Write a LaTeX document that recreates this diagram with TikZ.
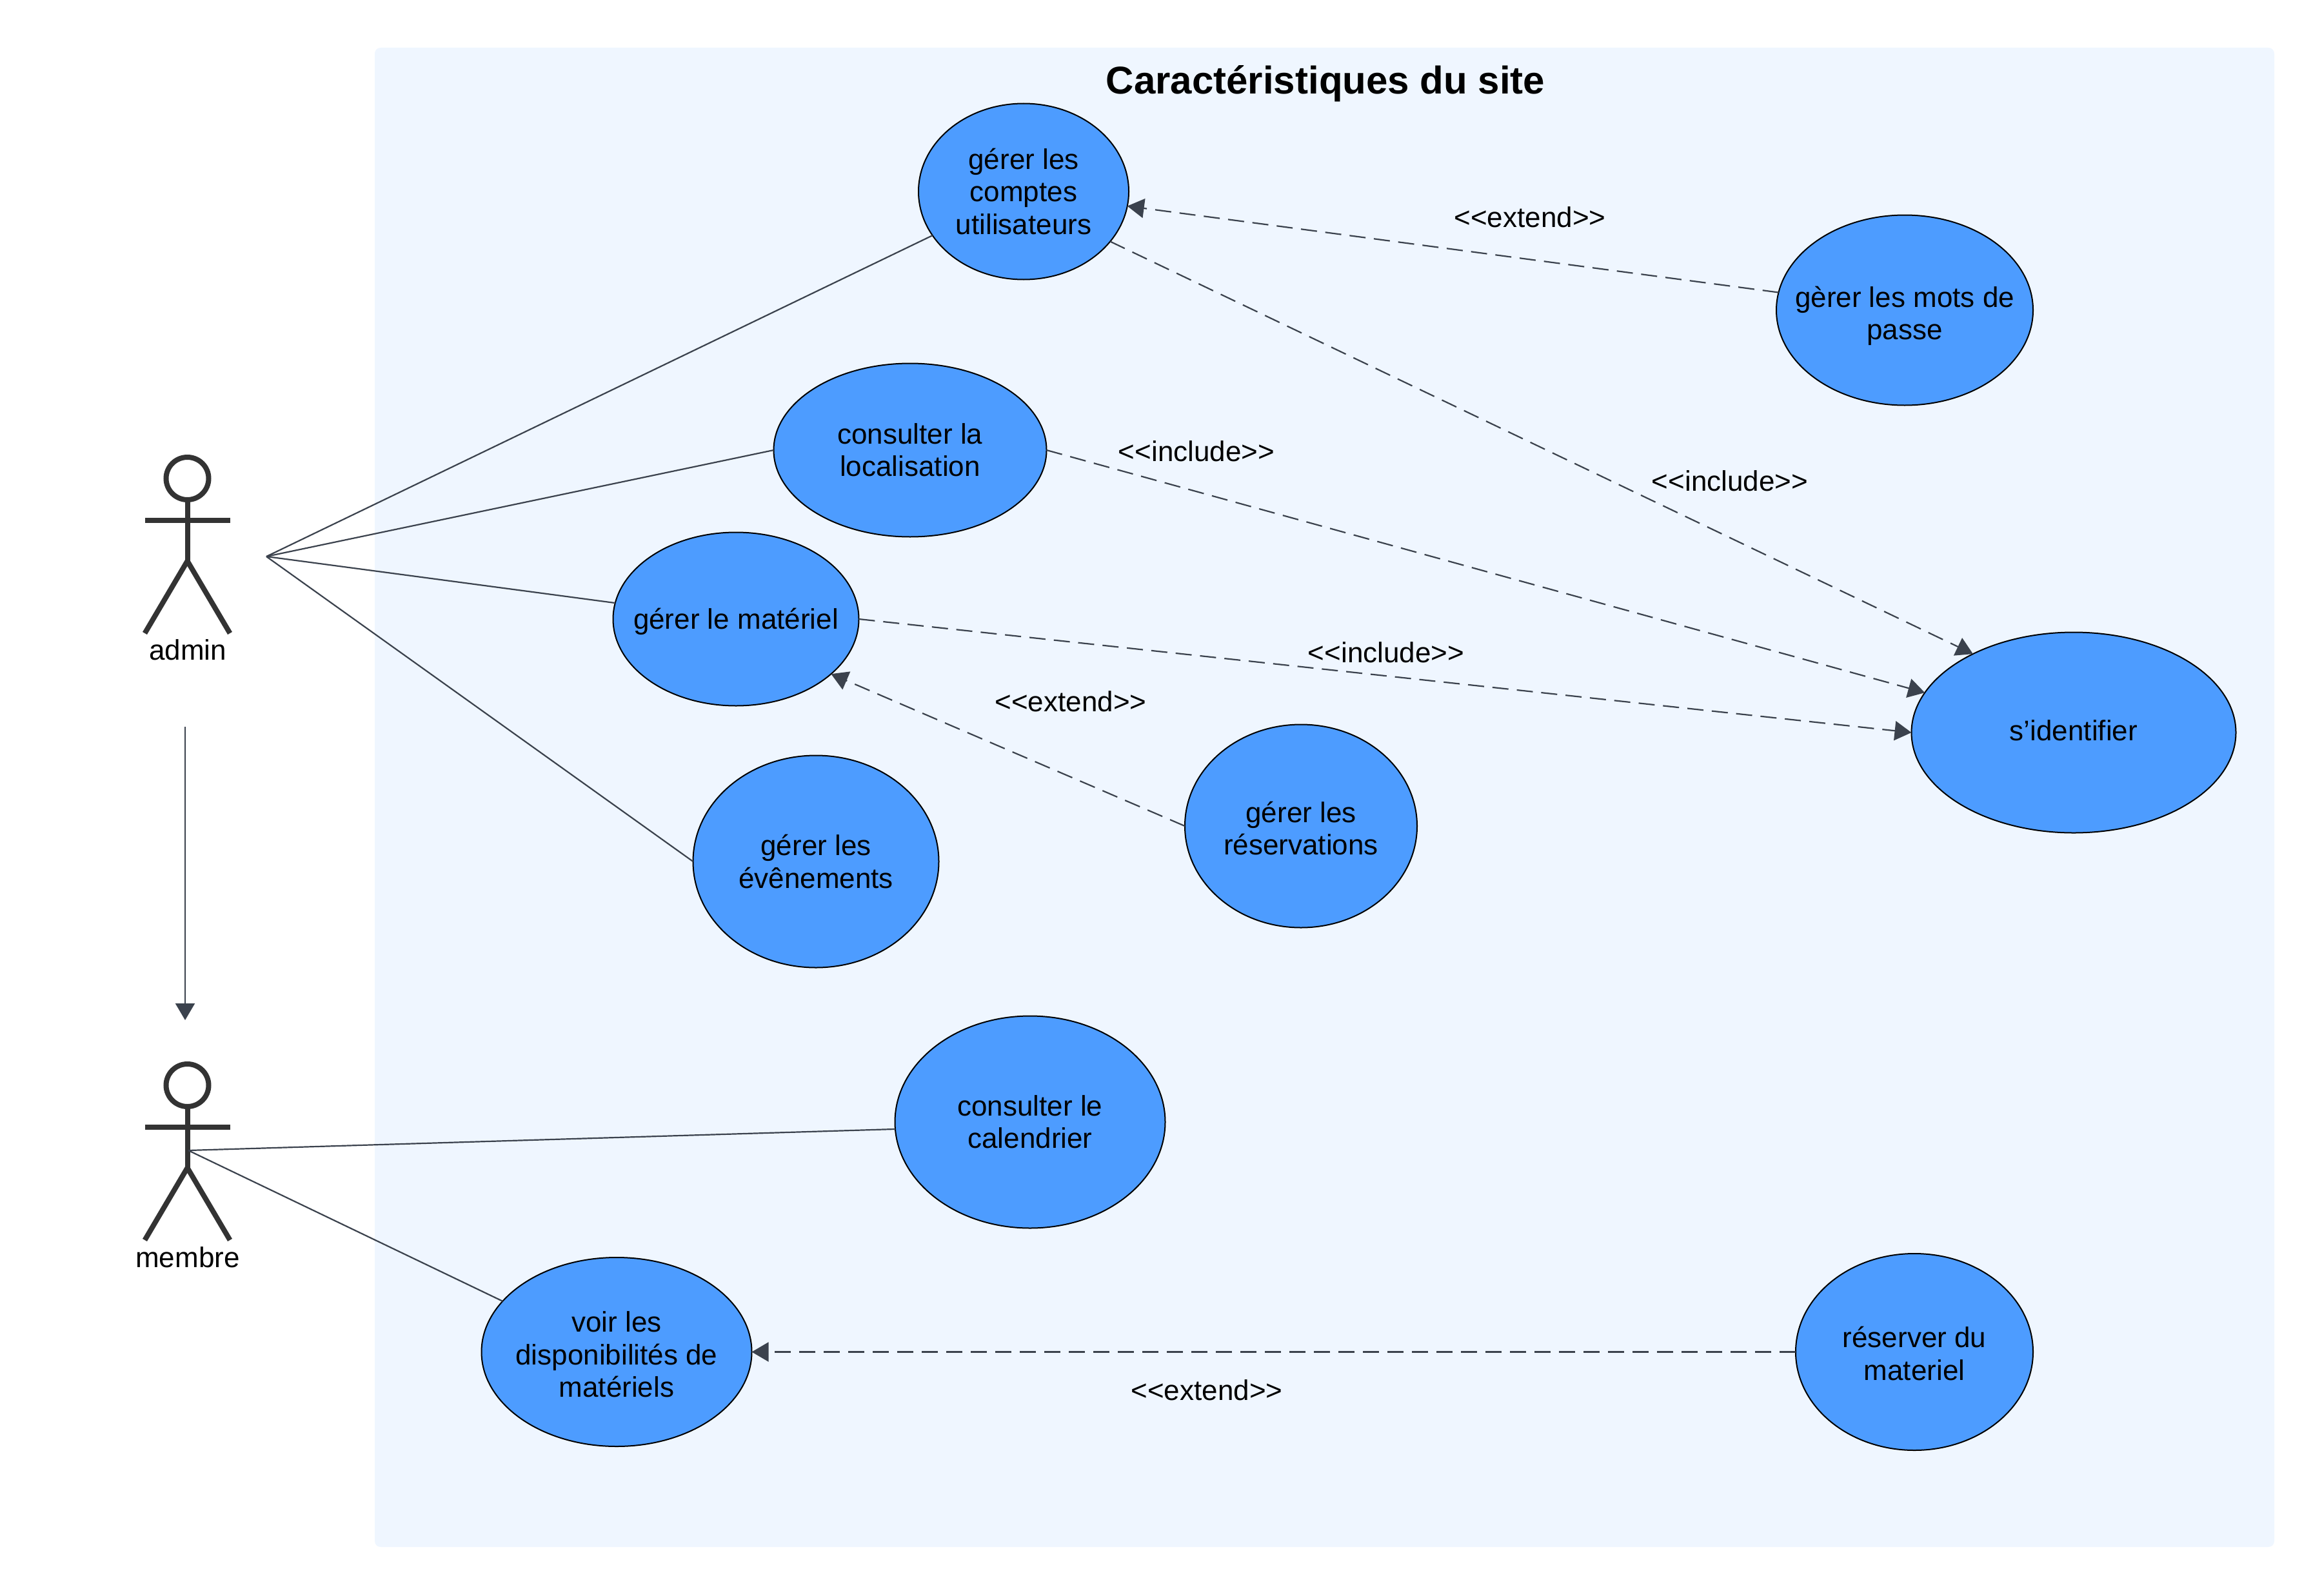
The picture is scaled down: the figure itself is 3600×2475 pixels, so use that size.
\documentclass[tikz,border=0pt]{standalone}
\usepackage{fontspec}
\setmainfont{Liberation Sans}
\usetikzlibrary{shapes.geometric,arrows.meta}
\definecolor{panelc}{HTML}{EFF6FF}
\definecolor{casec}{HTML}{4D9CFF}
\definecolor{linkc}{HTML}{3B424D}
\definecolor{actorc}{HTML}{333333}
\newcommand\topgap[1]{\rule{0pt}{#1pt}}
\newcommand\botgap[1]{\rule[-#1pt]{0pt}{#1pt}}
\tikzset{
  usecase/.style n args={2}{ellipse,draw=black,fill=casec,line width=2pt,
    minimum width=#1*2pt,minimum height=#2*2pt,inner xsep=-300pt,inner ysep=-200pt,outer sep=0pt,
    align=center,font=\fontsize{44}{50.5}\selectfont,text=black},
  txt/.style={font=\fontsize{44}{50.5}\selectfont,text=black,inner sep=0pt},
  assoc/.style={draw=linkc,line width=2.2pt},
  dep/.style={draw=linkc,line width=2.2pt,dash pattern=on 25pt off 13pt,-{Triangle[length=26pt,width=30pt]}},
  gen/.style={draw=linkc,line width=2.2pt,-{Triangle[length=26pt,width=30pt]}},
  actorline/.style={draw=actorc,line width=8pt},
  actorfig/.pic={
    \draw[actorline] (0,0) circle (33pt);
    \draw[actorline] (0,33) -- (0,128);
    \draw[actorline] (-66,65) -- (66,65);
    \draw[actorline] (-66,240) -- (0,128) -- (66,240);
  }
}
\begin{document}
\begin{tikzpicture}[x=1pt,y=-1pt]
\useasboundingbox (0,0) rectangle (3600,2475);
\fill[panelc,rounded corners=9pt] (581,74) rectangle (3526,2399);
\node[font=\fontsize{60}{70}\selectfont\bfseries,inner sep=0pt] (title) at (2055,130) {Caractéristiques du site};

\pic at (290.5,742) {actorfig};
\pic at (290.5,1683) {actorfig};
\node[txt] (admin) at (291,1008) {admin};
\node[txt] (membre) at (291,1950) {membre};
\coordinate (hubA) at (413,863);
\coordinate (hubM) at (292,1784);
\coordinate (genS) at (287,1127);
\coordinate (genE) at (287,1582);

\node[usecase={163}{136.5}] (a) at (1587,297) {gérer les\\comptes\\utilisateurs};
\node[usecase={199}{147.5}] (b) at (2953,481) {\topgap{50}gèrer les mots de\\passe};
\node[usecase={211.5}{134.5}] (c) at (1411,698) {consulter la\\localisation};
\node[usecase={190.5}{134.5}] (d) at (1141,960) {\topgap{41}gérer le matériel};
\node[usecase={251.5}{155.5}] (e) at (3215,1136) {\botgap{7}s\symbol{39}identifier};
\node[usecase={190.5}{164.5}] (f) at (1265,1336) {gérer les\\évênements};
\node[usecase={180}{157.5}] (g) at (2017,1281) {\topgap{39}gérer les\\réservations};
\node[usecase={209.5}{164.5}] (h) at (1597,1740) {consulter le\\calendrier};
\node[usecase={209.5}{146.5}] (i) at (956,2096.5) {\topgap{40}voir les\\disponibilités de\\matériels};
\node[usecase={184}{152.5}] (j) at (2968,2096.5) {\topgap{37}réserver du\\materiel};

\draw[assoc] (hubA) -- (a);
\draw[assoc] (hubA) -- (c.west);
\draw[assoc] (hubA) -- (d);
\draw[assoc] (hubA) -- (f.west);
\draw[assoc] (hubM) -- (h.183.3);
\draw[assoc] (hubM) -- (i.156.6);
\draw[gen] (genS) -- (genE);

\draw[dep] (b.172.6) -- (a.-8.4);
\draw[dep] (a.-30.6) -- (e.142.9);
\draw[dep] (c.east) -- (e.165.3);
\draw[dep] (d.east) -- (e.west);
\draw[dep] (g.west) -- (d.-30);
\draw[dep] (j.west) -- (i.east);

\node[txt] (l1) at (2372,337) {<{}<extend>{}>};
\node[txt] (l2) at (1855,700) {<{}<include>{}>};
\node[txt] (l3) at (2682,746) {<{}<include>{}>};
\node[txt] (l4) at (2149,1012) {<{}<include>{}>};
\node[txt] (l5) at (1660,1088) {<{}<extend>{}>};
\node[txt] (l6) at (1871,2156) {<{}<extend>{}>};
\end{tikzpicture}
\end{document}
